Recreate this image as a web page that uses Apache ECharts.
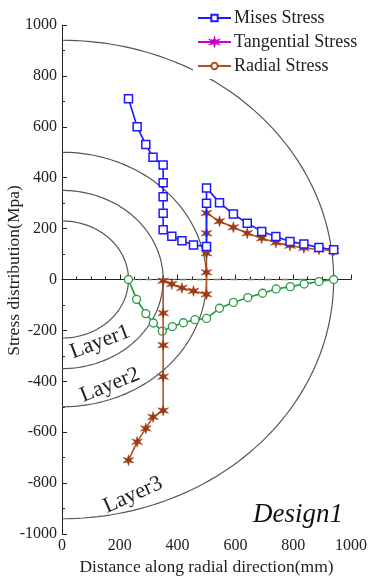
<!DOCTYPE html>
<html>
<head>
<meta charset="utf-8">
<script src="https://cdn.jsdelivr.net/npm/echarts@6/dist/echarts.min.js"></script>
<style>
  html, body { margin: 0; padding: 0; background: #fff; }
  #chart { width: 368px; height: 579px; }
</style>
</head>
<body>
<div id="chart"></div>
<script>
// radial positions (mm)
const misesX = [230, 260, 290, 315, 350, 350, 350, 350, 350, 380, 415, 455, 500, 500, 500, 545, 593, 641, 691, 740, 789, 837, 889, 940];
const misesY = [710, 600, 530, 480, 450, 380, 325, 260, 195, 170, 152, 136, 130, 300, 360, 302, 257, 221, 189, 169, 149, 139, 126, 117];

const tangX = [230, 260, 290, 315, 350, 350, 350, 350, 350, 380, 415, 455, 500, 500, 500, 500, 500, 545, 593, 641, 691, 740, 789, 837, 889, 940];
const tangY = [-710, -638, -585, -540, -515, -382, -258, -132, -5, -18, -33, -45, -58, 28, 103, 182, 261, 229, 205, 182, 162, 145, 133, 124, 118, 113];

const radX = [230, 258, 290, 316, 347, 382, 420, 460, 500, 545, 593, 643, 694, 741, 790, 838, 889, 940];
const radY = [0, -78, -134, -171, -203, -185, -170, -158, -153, -113, -90, -71, -54, -37, -28, -18, -8, 0];

// layer boundary radii
const layerRadii = [230, 350, 500, 940];
const zeroLine = [[230, 0], [940, 0]];

const serif = 'Liberation Serif';

function zip(xs, ys) { return xs.map((x, i) => [x, ys[i]]); }

// six pointed star marker
function starPath(n, R, r) {
  let d = '';
  for (let i = 0; i < 2 * n; i++) {
    const a = -Math.PI / 2 + i * Math.PI / n;
    const rad = i % 2 ? r : R;
    d += (i ? 'L' : 'M') + (rad * Math.cos(a)).toFixed(2) + ',' + (rad * Math.sin(a)).toFixed(2);
  }
  return 'path://' + d + 'Z';
}
const star = starPath(6, 10, 3.6);

const chart = echarts.init(document.getElementById('chart'));

chart.setOption({
  backgroundColor: '#fff',
  animation: false,
  grid: { left: 62, right: 17, top: 25, bottom: 45, outerBoundsMode: 'none', containLabel: false },
  legend: {
    orient: 'vertical',
    left: 193,
    top: 5,
    padding: [4, 4, 4, 4],
    backgroundColor: '#fff',
    itemWidth: 33,
    itemHeight: 8,
    itemGap: 6,
    z: 10,
    textStyle: { fontFamily: serif, fontSize: 18, color: '#222', padding: [0, 0, 0, -2] },
    data: [
      { name: 'Mises Stress' },
      { name: 'Tangential Stress', itemStyle: { color: '#cc00cc', borderColor: '#cc00cc' }, lineStyle: { color: '#cc00cc' } },
      { name: 'Radial Stress', itemStyle: { color: '#fff', borderColor: '#b0501e' }, lineStyle: { color: '#b0501e' } }
    ]
  },
  xAxis: {
    type: 'value',
    min: 0, max: 1000, interval: 200,
    name: 'Distance along radial direction(mm)',
    nameLocation: 'middle',
    nameGap: 24,
    nameMoveOverlap: false,
    nameTextStyle: { fontFamily: serif, fontSize: 17.5, color: '#222' },
    axisLine: { lineStyle: { color: '#222', width: 1 } },
    axisTick: { inside: true, length: 5, lineStyle: { color: '#222' } },
    minorTick: { show: true, splitNumber: 4, length: 3, lineStyle: { color: '#222' } },
    axisLabel: { fontFamily: serif, fontSize: 16, color: '#222', margin: 4, formatter: v => String(v) },
    splitLine: { show: false }
  },
  yAxis: {
    type: 'value',
    min: -1000, max: 1000, interval: 200,
    name: 'Stress distribution(Mpa)',
    nameLocation: 'middle',
    nameGap: 39,
    nameMoveOverlap: false,
    nameTextStyle: { fontFamily: serif, fontSize: 17.5, color: '#222', padding: [0, 0, 0, 18] },
    axisLine: { show: true, lineStyle: { color: '#222', width: 1 } },
    axisTick: { show: true, inside: true, length: 5, lineStyle: { color: '#222' } },
    minorTick: { show: true, splitNumber: 2, length: 3, lineStyle: { color: '#222' } },
    axisLabel: { fontFamily: serif, fontSize: 16, color: '#222', margin: 5, formatter: v => String(v) },
    splitLine: { show: false }
  },
  series: [
    {
      name: 'layers',
      type: 'custom',
      silent: true,
      z: 1,
      encode: { x: 0, y: 1 },
      data: layerRadii.map(r => [r, 0]),
      renderItem: function (params, api) {
        const r = api.value(0);
        const pts = [];
        for (let k = 0; k <= 120; k++) {
          const t = -Math.PI / 2 + k * Math.PI / 120;
          pts.push(api.coord([r * Math.cos(t), r * Math.sin(t)]));
        }
        return { type: 'polyline', shape: { points: pts }, style: { stroke: '#555', fill: 'none', lineWidth: 1.2 } };
      }
    },
    {
      name: 'zero',
      type: 'line',
      silent: true,
      symbol: 'none',
      z: 2,
      data: zeroLine,
      lineStyle: { color: '#777', width: 1.5, type: [7, 4, 2, 4] }
    },
    {
      name: 'Mises Stress',
      type: 'line',
      z: 5,
      data: zip(misesX, misesY),
      symbol: 'rect',
      symbolSize: 8,
      lineStyle: { color: '#1a1aff', width: 1.6 },
      itemStyle: { color: '#fff', borderColor: '#1a1aff', borderWidth: 1.5 }
    },
    {
      name: 'Tangential Stress',
      type: 'line',
      z: 4,
      data: zip(tangX, tangY),
      symbol: star,
      symbolSize: 11,
      lineStyle: { color: '#b4501e', width: 1.6 },
      itemStyle: { color: '#9a3a14', borderColor: '#9a3a14', borderWidth: 0.5 }
    },
    {
      name: 'Radial Stress',
      type: 'line',
      z: 3,
      data: zip(radX, radY),
      symbol: 'circle',
      symbolSize: 8,
      lineStyle: { color: '#1e9a3a', width: 1.6 },
      itemStyle: { color: '#fff', borderColor: '#2a9a46', borderWidth: 1.3 }
    }
  ],
  graphic: [
    { type: 'text', x: 100, y: 342, rotation: 0.36, style: { text: 'Layer1', font: '22px "Liberation Serif"', fill: '#222', align: 'center', verticalAlign: 'middle' } },
    { type: 'text', x: 110, y: 385, rotation: 0.38, style: { text: 'Layer2', font: '22px "Liberation Serif"', fill: '#222', align: 'center', verticalAlign: 'middle' } },
    { type: 'text', x: 133, y: 495, rotation: 0.42, style: { text: 'Layer3', font: '22px "Liberation Serif"', fill: '#222', align: 'center', verticalAlign: 'middle' } },
    { type: 'text', x: 298, y: 515, style: { text: 'Design1', font: 'italic 27px "Liberation Serif"', fill: '#111', align: 'center', verticalAlign: 'middle' } }
  ]
});
</script>
</body>
</html>
